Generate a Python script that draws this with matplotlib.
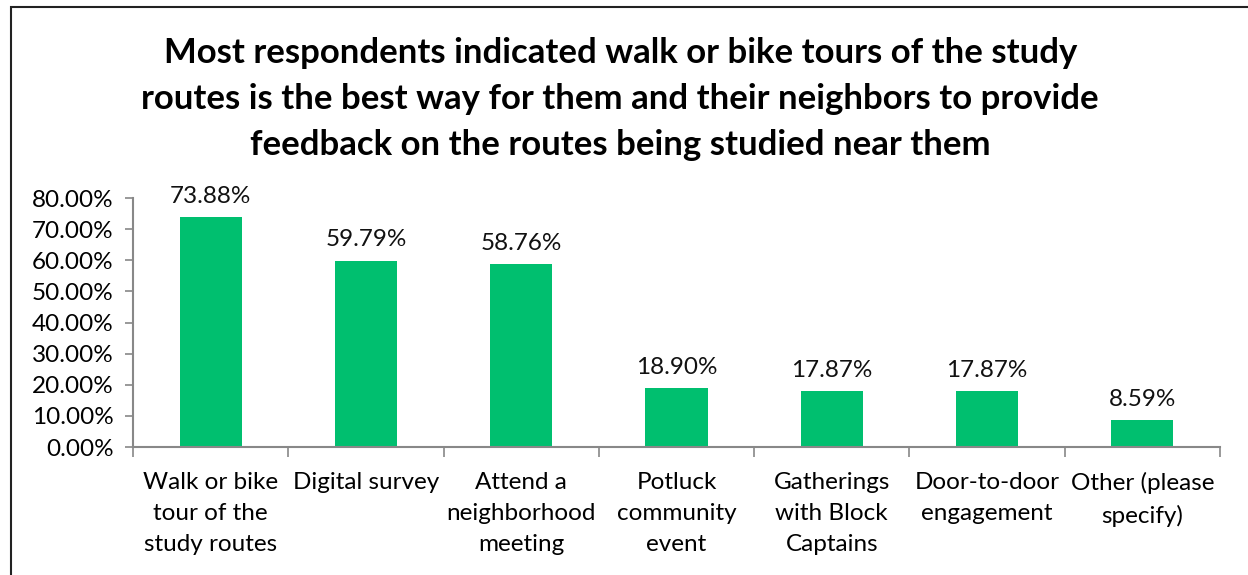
import numpy as np
import matplotlib.pyplot as plt
from matplotlib.patches import Rectangle
from matplotlib.ticker import FuncFormatter

plt.rcParams['font.family'] = ['Lato', 'DejaVu Sans']

categories = ["Walk or bike\ntour of the\nstudy routes", "Digital survey",
              "Attend a\nneighborhood\nmeeting", "Potluck\ncommunity\nevent",
              "Gatherings\nwith Block\nCaptains", "Door-to-door\nengagement",
              "Other (please\nspecify)"]
values = [73.88, 59.79, 58.76, 18.90, 17.87, 17.87, 8.59]
title = ("Most respondents indicated walk or bike tours of the study\n"
         "routes is the best way for them and their neighbors to provide\n"
         "feedback on the routes being studied near them")

fig = plt.figure(figsize=(12.48, 5.75), dpi=100)
ax = fig.add_axes([133/1248, 1-447/575, (1220-133)/1248, (447-198)/575])

x = np.arange(len(values))
green = '#00BF6F'
ax.bar(x, values, width=0.4, color=green)
for xi, v in zip(x, values):
    ax.annotate(f"{v:.2f}%", (xi, v), xytext=(0, 7.5), textcoords='offset points',
                ha='center', va='bottom', fontsize=17.5, color='#111111')

ax.set_xlim(-0.5, len(values)-0.5)
ax.set_ylim(0, 80)
ax.set_yticks(np.arange(0, 81, 10))
ax.yaxis.set_major_formatter(FuncFormatter(lambda v, p: f"{v:.2f}%"))
ax.set_xticks(x)
ax.set_xticklabels(categories, fontsize=17.5, linespacing=1.6)
ax.set_xticks(np.arange(-0.5, len(values)), minor=True)
ax.tick_params(axis='x', which='major', length=0, pad=18)
ax.tick_params(axis='x', which='minor', length=7, color='#888888', width=1.2)
ax.tick_params(axis='y', length=6, color='#888888', width=1.2, labelsize=17.5, pad=8)
for s in ['top', 'right']:
    ax.spines[s].set_visible(False)
for s in ['left', 'bottom']:
    ax.spines[s].set_color('#888888')
    ax.spines[s].set_linewidth(1.5)

fig.text(0.497, 1-99/575, title, ha='center', va='center', fontsize=25,
         fontweight='bold', linespacing=1.53)

fig.patches.append(Rectangle((11/1248, -0.1), 1.2, 1-7/575+0.1, transform=fig.transFigure,
                             fill=False, edgecolor='#222222', linewidth=1.5))

fig.savefig('out.png', dpi=100)
